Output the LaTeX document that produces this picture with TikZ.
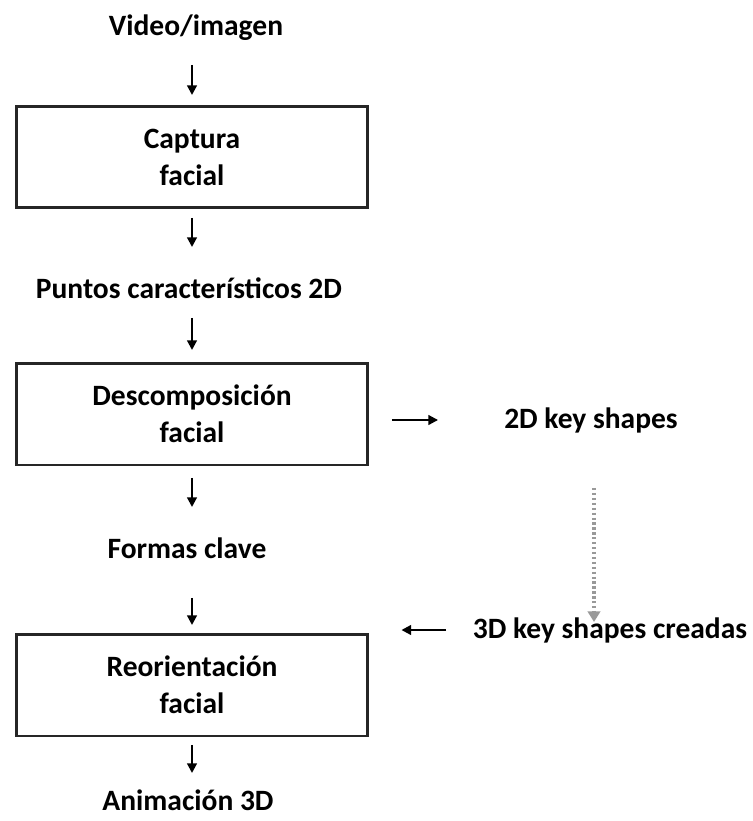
\documentclass[tikz,border=0pt]{standalone}
\usepackage{fontspec}
\setmainfont{Carlito}
\usetikzlibrary{arrows.meta,calc,positioning}

\tikzset{
	paso/.style={draw=black!85,line width=1.7pt,minimum width=7.04cm,minimum height=2.04cm,align=center},
	etiq/.style={align=center},
	flecha/.style={line width=1.2pt,-{Triangle[length=5.5pt,width=5.5pt]}},
	punteada/.style={line width=2pt,black!40,dash pattern=on 1.3pt off 1.5pt,-{Triangle[length=6pt,width=7pt,fill=black!40]}}
}

\begin{document}
\begin{tikzpicture}[x=0.02cm,y=-0.02cm,font=\fontsize{16.8}{21}\selectfont\bfseries]
	\useasboundingbox (0,0) rectangle (752,821);

	% columna principal
	\node[etiq] (vid) at (196,28) {Video/imagen};
	\node[paso] (cap) at (192,157) {Captura\\facial};
	\node[etiq] (pun) at (189,288) {Puntos característicos 2D};
	\node[paso] (desc) at (192,414) {Descomposición\\facial};
	\node[etiq] (for) at (187,548) {Formas clave};
	\node[paso] (reo) at (192,685) {Reorientación\\facial};
	\node[etiq] (ani) at (188,800) {Animación 3D};

	% columna derecha
	\node[etiq] (k2d) at (591,420) {2D key shapes};
	\node[etiq] (k3d) at (610,630) {3D key shapes creadas};

	\draw[flecha,shorten <=0.74cm,shorten >=1.24cm] (cap.center |- vid.center) -- (cap.center);
	\draw[flecha,shorten <=1.22cm,shorten >=0.82cm] (cap.center) -- (cap.center |- pun.center);
	\draw[flecha,shorten <=0.6cm,shorten >=1.28cm] (desc.center |- pun.center) -- (desc.center);
	\draw[flecha,shorten <=1.28cm,shorten >=0.82cm] (desc.center) -- (desc.center |- for.center);
	\draw[flecha,shorten <=1.0cm,shorten >=1.2cm] (reo.center |- for.center) -- (reo.center);
	\draw[flecha,shorten <=1.2cm,shorten >=0.54cm] (reo.center) -- (reo.center |- ani.center);

	\draw[flecha,shorten <=4cm,shorten >=3.06cm] (desc.center |- k2d.center) -- (k2d.center);
	\draw[punteada,shorten <=1.36cm,shorten >=0.16cm] ([xshift=0.06cm]k2d.center) -- ([xshift=0.06cm]k2d.center |- k3d.center);
	\draw[flecha,shorten <=3.28cm,shorten >=0.64cm] (k3d.center) -- (reo.east |- k3d.center);
\end{tikzpicture}
\end{document}
